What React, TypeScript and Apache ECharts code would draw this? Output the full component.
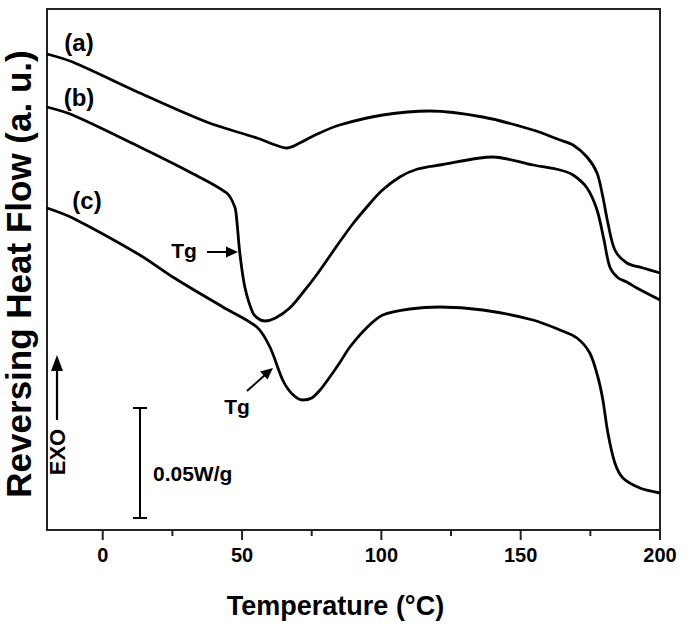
import React, { useEffect, useRef } from "react";
import * as echarts from "echarts";

// Temperature (°C) and reversing heat flow (arbitrary units)
const tempA = [-20, -10.8, 13.3, 37.3, 55.3, 62, 66, 70.7, 77, 85, 100.5, 117.4, 136.4, 154.4, 164.1, 168.8, 173.8, 177.4, 179.5, 181.3, 183.8, 188.1, 193.9, 200];
const flowA = [476, 468, 437, 408, 392, 385, 382, 387, 396, 405, 415, 419, 413, 400, 390, 385, 373, 357, 333, 307, 280, 267, 262, 257];

const tempB = [-20, -10.8, 13.3, 31.2, 44.5, 47.4, 48.1, 49.2, 51, 53.9, 56, 58.2, 62, 67.1, 72, 77, 82, 85, 90, 94.8, 100, 106.6, 113, 121, 140, 154.4, 164.1, 168.8, 173.8, 177.4, 179.9, 182, 185, 188.1, 191.7, 200];
const flowB = [423, 415, 383, 358, 337, 323, 310, 277, 243, 217, 211, 209, 212, 222, 238, 256, 276, 288, 307, 323, 339, 353, 361, 365, 373, 365, 360, 355, 342, 320, 290, 263, 252, 248, 242, 230];

const tempC = [-20, -10.8, 13.3, 25.1, 43.1, 55.3, 60, 64.6, 68, 71.8, 75, 78, 81, 85, 88.7, 95, 100.5, 110.2, 121, 136.4, 154.4, 164.1, 170.2, 174.8, 177.7, 179.5, 181.3, 183.8, 186.7, 192.8, 200];
const flowC = [322, 312, 275, 253, 223, 203, 183, 150, 136, 130, 132, 140, 151, 167, 183, 203, 215, 221, 223, 220, 210, 200, 192, 177, 153, 130, 97, 67, 52, 42, 37];

const majorTicks = [0, 50, 100, 150, 200];
const minorTicks = [25, 75, 125, 175];

const seriesNames = ["(a)", "(b)", "(c)"];

const zip = (xs: number[], ys: number[]) => xs.map((x, i) => [x, ys[i]]);

const FONT = "Liberation Sans, Arial, sans-serif";

export default function App() {
  const ref = useRef<HTMLDivElement>(null);
  useEffect(() => {
    if (!ref.current) return;
    const chart = echarts.init(ref.current, undefined, { renderer: "svg" });
    const lineStyle = { color: "#000", width: 2.8 };
    const txt = (x: number, y: number, text: string, size: number, extra: any = {}, rotation = 0) => ({
      type: "text",
      x,
      y,
      rotation,
      style: {
        text,
        font: `bold ${size}px ${FONT}`,
        fill: "#000",
        align: "center",
        verticalAlign: "middle",
        ...extra,
      },
    });
    const baseGraphic: any[] = [
      txt(18, 274, "Reversing Heat Flow (a. u.)", 35, {}, Math.PI / 2),
      txt(79, 42, seriesNames[0], 24),
      txt(79, 97, seriesNames[1], 24),
      txt(87, 200, seriesNames[2], 24),
      txt(184, 250, "Tg", 21),
      txt(237, 406, "Tg", 21),
      txt(153, 473, "0.05W/g", 21, { align: "left" }),
      // Tg arrow 1
      { type: "line", shape: { x1: 207, y1: 252, x2: 228, y2: 252 }, style: { stroke: "#000", lineWidth: 2 } },
      { type: "polygon", shape: { points: [[238, 252], [226, 246.5], [226, 257.5]] }, style: { fill: "#000" } },
      // Tg arrow 2
      { type: "line", shape: { x1: 247, y1: 391, x2: 265, y2: 375 }, style: { stroke: "#000", lineWidth: 2 } },
      { type: "polygon", shape: { points: [[273, 368], [267.5, 379.5], [260, 371.5]] }, style: { fill: "#000" } },
      // scale bar
      { type: "line", shape: { x1: 140, y1: 408, x2: 140, y2: 518 }, style: { stroke: "#000", lineWidth: 2 } },
      { type: "line", shape: { x1: 133, y1: 408, x2: 147, y2: 408 }, style: { stroke: "#000", lineWidth: 2 } },
      { type: "line", shape: { x1: 133, y1: 518, x2: 147, y2: 518 }, style: { stroke: "#000", lineWidth: 2 } },
      // EXO arrow
      { type: "line", shape: { x1: 57, y1: 420, x2: 57, y2: 368 }, style: { stroke: "#000", lineWidth: 2.2 } },
      { type: "polygon", shape: { points: [[57, 355], [51, 371], [63, 371]] }, style: { fill: "#000" } },
      txt(57, 452, "EXO", 22, {}, Math.PI / 2),
    ];
    chart.setOption({
      animation: false,
      backgroundColor: "#fff",
      grid: {
        left: 47,
        right: 27,
        top: 9,
        bottom: 101,
        show: true,
        borderColor: "#222",
        borderWidth: 2,
      },
      xAxis: {
        type: "value",
        min: -20,
        max: 200,
        position: "bottom",
        name: "Temperature (°C)",
        nameLocation: "middle",
        nameGap: 62,
        nameTextStyle: {
          fontFamily: FONT,
          fontWeight: "bold",
          fontSize: 27,
          color: "#000",
          padding: [0, 36, 0, 0],
        },
        axisLine: { show: true, onZero: false, lineStyle: { color: "#222", width: 2 } },
        axisTick: { show: false },
        axisLabel: {
          customValues: majorTicks,
          fontFamily: FONT,
          fontWeight: "bold",
          fontSize: 20,
          color: "#000",
          margin: 15,
        },
        splitLine: { show: false },
      },
      yAxis: {
        type: "value",
        min: 0,
        max: 521,
        axisLine: { show: true, onZero: false, lineStyle: { color: "#222", width: 2 } },
        axisTick: { show: false },
        axisLabel: { show: false },
        splitLine: { show: false },
      },
      series: [
        { name: seriesNames[0], type: "line", data: zip(tempA, flowA), showSymbol: false, smooth: 0.3, lineStyle },
        { name: seriesNames[1], type: "line", data: zip(tempB, flowB), showSymbol: false, smooth: 0.3, lineStyle },
        { name: seriesNames[2], type: "line", data: zip(tempC, flowC), showSymbol: false, smooth: 0.3, lineStyle },
      ],
      graphic: baseGraphic,
    });
    // ticks positioned through the axis scale
    const yBase = chart.convertToPixel({ yAxisIndex: 0 }, 0) as number;
    const tick = (v: number, len: number) => {
      const px = chart.convertToPixel({ xAxisIndex: 0 }, v) as number;
      return { type: "line", shape: { x1: px, y1: yBase, x2: px, y2: yBase + len }, style: { stroke: "#222", lineWidth: 2 } };
    };
    const ticks = [...majorTicks.map((v) => tick(v, 10)), ...minorTicks.map((v) => tick(v, 6))];
    chart.setOption({ graphic: [...baseGraphic, ...ticks] });
    return () => chart.dispose();
  }, []);
  return <div ref={ref} style={{ width: 687, height: 631, position: "absolute", left: 0, top: 0 }} />;
}
